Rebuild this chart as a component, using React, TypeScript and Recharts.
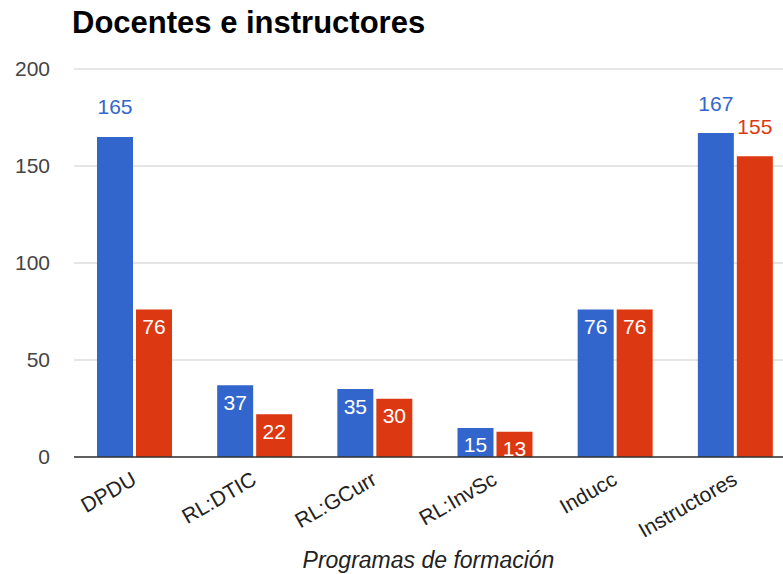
import { BarChart, Bar, XAxis, YAxis, CartesianGrid, Label, LabelList } from 'recharts';

const categories = ['DPDU', 'RL:DTIC', 'RL:GCurr', 'RL:InvSc', 'Inducc', 'Instructores'];
const serieAzul = [165, 37, 35, 15, 76, 167];
const serieRoja = [76, 22, 30, 13, 76, 155];
const yTicks = [0, 50, 100, 150, 200];

const AZUL = '#3366cc';
const ROJO = '#dc3912';

const data = categories.map((name, i) => ({
  name,
  azul: serieAzul[i],
  roja: serieRoja[i],
}));

function makeLabel(color: string) {
  return function BarLabel(props: any) {
    const { x, y, width, value } = props;
    const outside = value >= 150;
    return (
      <text
        x={x + width / 2}
        y={outside ? y - 30 : y + 17}
        textAnchor="middle"
        dominantBaseline="central"
        fontSize={21}
        fill={outside ? color : '#ffffff'}
      >
        {value}
      </text>
    );
  };
}

function XTick(props: any) {
  const { x, y, payload } = props;
  return (
    <text
      x={x}
      y={y}
      transform={`rotate(-30 ${x} ${y})`}
      textAnchor="end"
      dominantBaseline="central"
      fontSize={21}
      fill="#222"
    >
      {payload.value}
    </text>
  );
}

export default function App() {
  return (
    <div
      style={{
        position: 'fixed',
        left: 0,
        top: 0,
        width: 783,
        height: 574,
        overflow: 'hidden',
        background: '#fff',
        fontFamily: '"Liberation Sans", Arial, sans-serif',
      }}
    >
      <div
        style={{
          position: 'absolute',
          left: 72,
          top: 4,
          fontSize: 31,
          fontWeight: 'bold',
          color: '#000',
          lineHeight: '38px',
        }}
      >
        Docentes e instructores
      </div>
      <BarChart
        width={795}
        height={574}
        data={data}
        margin={{ top: 69, right: 0, left: 0, bottom: 0 }}
        barSize={36}
        barGap={3}
      >
        <CartesianGrid vertical={false} stroke="#cccccc" />
        <YAxis
          width={74}
          domain={[0, 200]}
          ticks={yTicks}
          axisLine={false}
          tickLine={false}
          tickSize={0}
          tickMargin={24}
          tick={{ fontSize: 21, fill: '#444' }}
        />
        <XAxis
          dataKey="name"
          height={117}
          interval={0}
          tickLine={false}
          axisLine={{ stroke: '#333', strokeWidth: 1.5 }}
          tick={<XTick />}
          tickSize={0}
          tickMargin={20}
        >
          <Label
            value="Programas de formación"
            position="insideBottom"
            offset={6}
            style={{ fontSize: 23, fontStyle: 'italic', fill: '#222' }}
            dx={-6}
          />
        </XAxis>
        <Bar dataKey="azul" name="Docentes" fill={AZUL} isAnimationActive={false}>
          <LabelList dataKey="azul" content={makeLabel(AZUL)} />
        </Bar>
        <Bar dataKey="roja" name="Instructores" fill={ROJO} isAnimationActive={false}>
          <LabelList dataKey="roja" content={makeLabel(ROJO)} />
        </Bar>
      </BarChart>
    </div>
  );
}
